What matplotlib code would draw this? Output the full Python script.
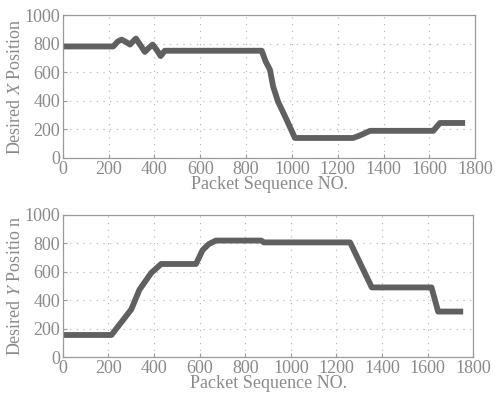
import matplotlib
matplotlib.use("Agg")
import matplotlib.pyplot as plt

# desired X trajectory
x_pkt = [0, 220, 240, 256, 275, 293, 306, 319, 338, 358, 375, 392, 410, 427, 445,
         868, 885, 904, 918, 939, 977, 1013, 1267, 1300, 1341, 1617, 1646, 1756]
x_pos = [780, 780, 815, 828, 812, 793, 815, 835, 790, 742, 770, 793, 755, 713, 750,
         750, 676, 617, 500, 395, 267, 140, 140, 160, 190, 190, 245, 245]

# desired Y trajectory
y_pkt = [0, 213, 300, 336, 387, 431, 584, 613, 640, 671, 870, 882, 1260, 1355,
         1617, 1646, 1756]
y_pos = [155, 155, 335, 474, 591, 655, 655, 753, 795, 820, 820, 807, 807, 490,
         490, 320, 320]

xticks = [0, 200, 400, 600, 800, 1000, 1200, 1400, 1600, 1800]
yticks = [0, 200, 400, 600, 800, 1000]

plt.rcParams['font.family'] = ['Liberation Serif', 'DejaVu Serif']
plt.rcParams['mathtext.fontset'] = 'stix'
plt.rcParams['font.size'] = 10

txt = '#8a8a8a'
linec = '#606060'

fig = plt.figure(figsize=(4.95, 4.0), dpi=100)
ax1 = fig.add_axes([0.127, 0.605, 0.833, 0.3575])
ax2 = fig.add_axes([0.127, 0.1075, 0.829, 0.355])

for ax, xs, ys, lab in [(ax1, x_pkt, x_pos, 'Desired $\\it{X}$ Position'),
                        (ax2, y_pkt, y_pos, 'Desired $\\it{Y}$ Positio n')]:
    ax.plot(xs, ys, color=linec, lw=4.2, solid_capstyle='butt', solid_joinstyle='round')
    ax.set_xlim(0, 1800)
    ax.set_ylim(0, 1000)
    ax.set_xticks(xticks)
    ax.set_yticks(yticks)
    ax.grid(True, linestyle=(0, (1, 5)), color='#b0b0b0', lw=0.8)
    ax.tick_params(direction='in', length=3, colors='#9a9a9a', labelcolor=txt,
                   labelsize=13, pad=2)
    for s in ax.spines.values():
        s.set_color('#9a9a9a')
        s.set_linewidth(0.9)
    ax.set_xlabel('Packet Sequence NO.', color=txt, fontsize=13, labelpad=-1)
    ax.set_ylabel(lab, color=txt, fontsize=13, labelpad=0)

fig.savefig('out.png', dpi=100, facecolor='white')
